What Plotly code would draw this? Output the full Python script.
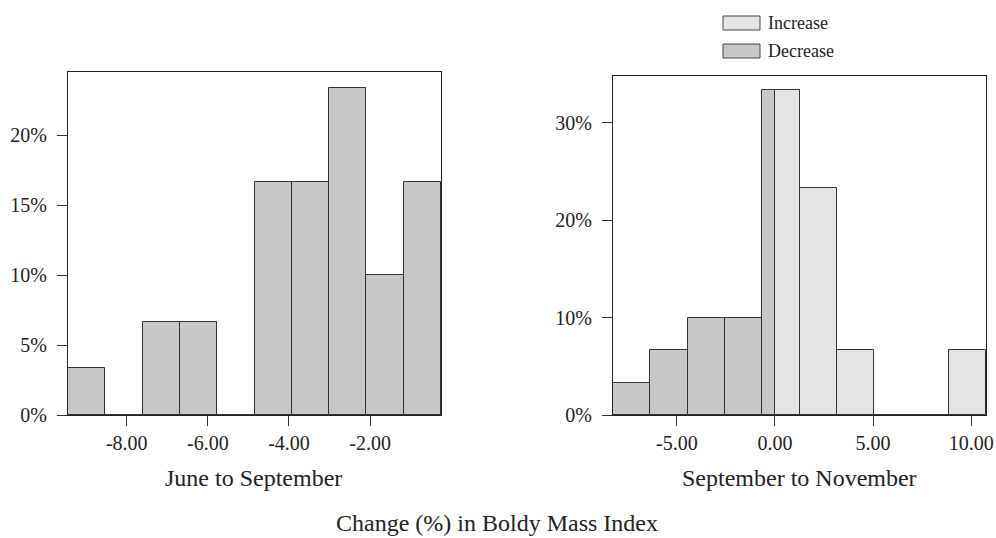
import plotly.graph_objects as go

# ---- data ----
# Left panel: June to September (bin edges and percentages)
js_edges = [-9.45, -8.53, -7.61, -6.69, -5.77, -4.85, -3.93, -3.01, -2.09, -1.17, -0.25]
js_pct = [3.33, 0.0, 6.67, 6.67, 0.0, 16.67, 16.67, 23.33, 10.0, 16.67]

# Right panel: September to November
sn_dec_edges = [-8.25, -6.35, -4.45, -2.55, -0.65, 0.0]
sn_dec_pct = [3.33, 6.67, 10.0, 10.0, 33.33]
sn_inc_edges = [0.0, 1.25, 3.15, 5.05, 6.95, 8.85, 10.75]
sn_inc_pct = [33.4, 23.33, 6.67, 0.0, 0.0, 6.67]

left_xticks = [-8, -6, -4, -2]
left_xticklabels = ["-8.00", "-6.00", "-4.00", "-2.00"]
left_yticks = [0, 5, 10, 15, 20]
left_yticklabels = ["0%", "5%", "10%", "15%", "20%"]
right_xticks = [-5, 0, 5, 10]
right_xticklabels = ["-5.00", "0.00", "5.00", "10.00"]
right_yticks = [0, 10, 20, 30]
right_yticklabels = ["0%", "10%", "20%", "30%"]

DEC_FILL = "#c8c8ca"
INC_FILL = "#e4e4e6"
EDGE = "#333333"
TXT = "#222222"
FONT = "Liberation Serif"

W, H = 996, 538


def px_x(p):
    return p / W


def px_y(p):
    return 1 - p / H


def bars(edges, vals, fill, xa, ya, name):
    lefts = edges[:-1]
    widths = [b - a for a, b in zip(edges[:-1], edges[1:])]
    return go.Bar(
        x=lefts, y=vals, width=widths, offset=0, name=name,
        marker=dict(color=fill, line=dict(color=EDGE, width=1)),
        xaxis=xa, yaxis=ya, showlegend=False, hoverinfo="skip",
    )


fig = go.Figure()
fig.add_trace(bars(js_edges, js_pct, DEC_FILL, "x", "y", "Decrease"))
fig.add_trace(bars(sn_dec_edges, sn_dec_pct, DEC_FILL, "x2", "y2", "Decrease"))
fig.add_trace(bars(sn_inc_edges, sn_inc_pct, INC_FILL, "x2", "y2", "Increase"))

axis_common = dict(
    showline=True, linecolor="#222222", linewidth=1, mirror=True,
    showgrid=False, zeroline=False, ticks="outside", ticklen=10,
    tickcolor="#333333", tickwidth=1, automargin=False,
    tickfont=dict(family=FONT, size=20, color=TXT),
)
yextra = dict(ticklabelstandoff=6)

fig.update_layout(
    width=W, height=H,
    margin=dict(l=0, r=0, t=0, b=0),
    paper_bgcolor="white", plot_bgcolor="white",
    bargap=0,
    font=dict(family=FONT, color=TXT),
    xaxis=dict(domain=[px_x(68), px_x(441)], range=[js_edges[0], js_edges[-1]],
               tickmode="array", tickvals=left_xticks, ticktext=left_xticklabels,
               anchor="y", **axis_common),
    yaxis=dict(domain=[px_y(415), px_y(72)], range=[0, 24.5],
               tickmode="array", tickvals=left_yticks, ticktext=left_yticklabels,
               anchor="x", **axis_common, **yextra),
    xaxis2=dict(domain=[px_x(613), px_x(986)], range=[sn_dec_edges[0], sn_inc_edges[-1]],
                tickmode="array", tickvals=right_xticks, ticktext=right_xticklabels,
                anchor="y2", **axis_common),
    yaxis2=dict(domain=[px_y(415), px_y(76)], range=[0, 34.8],
                tickmode="array", tickvals=right_yticks, ticktext=right_yticklabels,
                anchor="x2", **axis_common, **yextra),
)

annos = [
    dict(text="June to September", x=px_x(253), y=px_y(478), size=24),
    dict(text="September to November", x=px_x(799.5), y=px_y(478), size=24),
    dict(text="Change (%) in Boldy Mass Index", x=px_x(497), y=px_y(523), size=24),
]
for a in annos:
    fig.add_annotation(text=a["text"], x=a["x"], y=a["y"], xref="paper", yref="paper",
                       xanchor="center", yanchor="middle", showarrow=False,
                       font=dict(family=FONT, size=a["size"], color=TXT))

# legend (custom, boxes + text)
legend_items = [("Increase", INC_FILL, 16, 30), ("Decrease", DEC_FILL, 44, 58)]
for label, fill, y0, y1 in legend_items:
    fig.add_shape(type="rect", xref="paper", yref="paper",
                  x0=px_x(723), x1=px_x(760), y0=px_y(y1), y1=px_y(y0),
                  fillcolor=fill, line=dict(color="#444444", width=1))
    fig.add_annotation(text=label, x=px_x(766), y=px_y((y0 + y1) / 2),
                       xref="paper", yref="paper", xanchor="left", yanchor="middle",
                       showarrow=False, font=dict(family=FONT, size=18, color=TXT))

fig.write_html("out.html", config={"displayModeBar": False},
               post_script="document.body.style.margin='0';")
